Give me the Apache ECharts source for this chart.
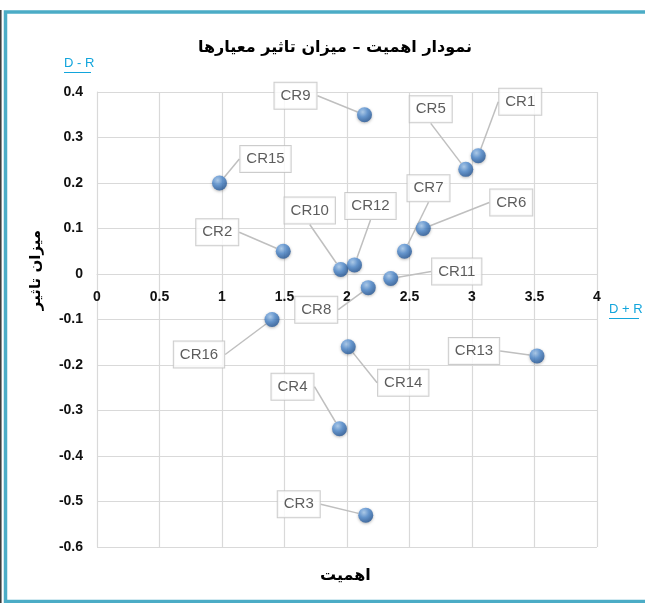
<!DOCTYPE html>
<html>
<head>
<meta charset="utf-8">
<script src="https://cdn.jsdelivr.net/npm/echarts@6/dist/echarts.min.js"></script>
<style>
  html, body { margin: 0; padding: 0; background: #fff; }
  #main { width: 645px; height: 603px; }
</style>
</head>
<body>
<div id="main"></div>
<script>
// داده‌ها
var names = ['CR1', 'CR2', 'CR3', 'CR4', 'CR5', 'CR6', 'CR7', 'CR8',
             'CR9', 'CR10', 'CR11', 'CR12', 'CR13', 'CR14', 'CR15', 'CR16'];
// D + R
var importance = [3.05, 1.49, 2.15, 1.94, 2.95, 2.61, 2.46, 2.17,
                  2.14, 1.95, 2.35, 2.06, 3.52, 2.01, 0.98, 1.40];
// D - R
var influence = [0.26, 0.05, -0.53, -0.34, 0.23, 0.10, 0.05, -0.03,
                 0.35, 0.01, -0.01, 0.02, -0.18, -0.16, 0.20, -0.10];

// callout offsets (label box relative to its point), in px
var calloutOffsets = {
  CR1: [42, -54], CR2: [-66, -19], CR3: [-67, -11], CR4: [-47, -42],
  CR5: [-35, -60], CR6: [88, -26], CR7: [24, -63], CR8: [-52, 22],
  CR9: [-69, -19], CR10: [-31, -59], CR11: [66, -7], CR12: [16, -59],
  CR13: [-63, -5], CR14: [55, 36], CR15: [46, -24], CR16: [-73, 35]
};

var points = names.map(function (n, i) {
  return { name: n, value: [importance[i], influence[i]] };
});

var chart = echarts.init(document.getElementById('main'));

var gridColor = '#d9d9d9';
var gridTop = 92, gridBottom = 56, plotH = 603 - gridTop - gridBottom;
var yMin = -0.6, yMax = 0.4;
// the horizontal axis sits on the zero line, as in the original
var zeroShift = -plotH * (0 - yMin) / (yMax - yMin);
var tickFont = { fontFamily: 'Liberation Sans Narrow, Liberation Sans, sans-serif', fontWeight: 'bold', fontSize: 14, color: '#111' };

var option = {
  backgroundColor: '#fff',
  animation: false,
  title: {
    text: 'نمودار اهمیت – میزان تاثیر معیارها',
    left: 330,
    textAlign: 'center',
    top: 35,
    textStyle: { fontFamily: 'DejaVu Sans, sans-serif', fontWeight: 'bold', fontSize: 16, color: '#000' }
  },
  grid: { left: 97, right: 48, top: gridTop, bottom: gridBottom },
  xAxis: {
    type: 'value',
    position: 'bottom',
    offset: zeroShift,
    min: 0, max: 4, interval: 0.5,
    axisLine: { show: true, onZero: false, lineStyle: { color: gridColor } },
    axisTick: { show: false },
    axisLabel: Object.assign({ margin: 16 }, tickFont),
    splitLine: { show: true, lineStyle: { color: gridColor, width: 1.2 } }
  },
  yAxis: {
    type: 'value',
    min: yMin, max: yMax, interval: 0.1,
    axisLine: { show: true, lineStyle: { color: gridColor } },
    axisTick: { show: false },
    axisLabel: Object.assign({ margin: 14 }, tickFont),
    splitLine: { show: true, lineStyle: { color: gridColor, width: 1.2 } }
  },
  series: [{
    type: 'scatter',
    data: points,
    symbol: 'circle',
    symbolSize: 15,
    itemStyle: {
      color: {
        type: 'radial', x: 0.38, y: 0.32, r: 0.75,
        colorStops: [
          { offset: 0, color: '#a9cdf2' },
          { offset: 0.45, color: '#4f8bd0' },
          { offset: 1, color: '#1e4f8e' }
        ]
      },
      shadowColor: 'rgba(0,0,0,0.35)',
      shadowBlur: 3,
      shadowOffsetY: 1
    },
    label: {
      show: true,
      position: 'inside',
      formatter: '{b}',
      fontFamily: 'Liberation Sans Narrow, Liberation Sans, sans-serif',
      fontSize: 15,
      color: '#333',
      backgroundColor: '#fff',
      borderColor: '#bfbfbf',
      borderWidth: 1,
      padding: [6, 6, 5, 6]
    },
    labelLine: {
      show: true,
      smooth: false,
      lineStyle: { color: '#bfbfbf', width: 1.5 }
    },
    labelLayout: function (params) {
      var off = calloutOffsets[names[params.dataIndex]];
      return { dx: off[0], dy: off[1] };
    },
    z: 3
  }],
  graphic: [
    // chart frame
    { type: 'rect', silent: true, z: -1, shape: { x: 5.5, y: 12, width: 645, height: 589.5 },
      style: { fill: null, stroke: '#4bacc6', lineWidth: 3.5 } },
    { type: 'line', silent: true, shape: { x1: 0.8, y1: 10, x2: 0.8, y2: 603 },
      style: { stroke: '#333', lineWidth: 1.5 } },
    // axis captions
    { type: 'text', x: 36, y: 270, rotation: Math.PI / 2,
      style: { text: 'میزان تاثیر', font: 'bold 15px DejaVu Sans, sans-serif', fill: '#000',
               align: 'center', verticalAlign: 'middle' } },
    { type: 'text', left: 320, top: 568,
      style: { text: 'اهمیت', font: 'bold 16px DejaVu Sans, sans-serif', fill: '#000' } },
    { type: 'text', left: 64, top: 57,
      style: { text: 'D - R', font: '13px Liberation Sans Narrow, Liberation Sans, sans-serif', fill: '#12a5dc' } },
    { type: 'line', silent: true, shape: { x1: 64, y1: 72.5, x2: 91, y2: 72.5 },
      style: { stroke: '#12a5dc', lineWidth: 1 } },
    { type: 'text', left: 609, top: 303,
      style: { text: 'D + R', font: '13px Liberation Sans Narrow, Liberation Sans, sans-serif', fill: '#12a5dc' } },
    { type: 'line', silent: true, shape: { x1: 609, y1: 318.5, x2: 639, y2: 318.5 },
      style: { stroke: '#12a5dc', lineWidth: 1 } }
  ]
};

chart.setOption(option);
</script>
</body>
</html>
